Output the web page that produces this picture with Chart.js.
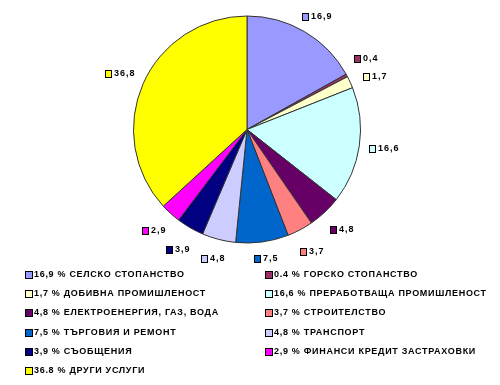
<!DOCTYPE html>
<html>
<head>
<meta charset="utf-8">
<script src="https://cdn.jsdelivr.net/npm/chart.js@4/dist/chart.umd.min.js"></script>
<style>
  body { margin: 0; background: #fff; }
  #wrap { position: relative; width: 500px; height: 385px; }
  #legend { position: absolute; left: 0; top: 0; width: 500px; height: 385px; pointer-events: none; }
  .item { position: absolute; height: 12px; line-height: 12px; font: bold 9px "Liberation Sans", Arial, sans-serif; letter-spacing: 0.7px; color: #000; white-space: nowrap; }
  .item span.box { position: absolute; left: 0; top: 2px; width: 6px; height: 6px; border: 1px solid #000; }
  .item span.txt { position: absolute; left: 9px; top: 0; }
</style>
</head>
<body>
<div id="wrap">
  <canvas id="chart-pie" width="500" height="385"></canvas>
  <div id="legend"></div>
</div>
<script>
// data
const sectors = [
  'СЕЛСКО СТОПАНСТВО',
  'ГОРСКО СТОПАНСТВО',
  'ДОБИВНА ПРОМИШЛЕНОСТ',
  'ПРЕРАБОТВАЩА ПРОМИШЛЕНОСТ',
  'ЕЛЕКТРОЕНЕРГИЯ, ГАЗ, ВОДА',
  'СТРОИТЕЛСТВО',
  'ТЪРГОВИЯ И РЕМОНТ',
  'ТРАНСПОРТ',
  'СЪОБЩЕНИЯ',
  'ФИНАНСИ КРЕДИТ ЗАСТРАХОВКИ',
  'ДРУГИ УСЛУГИ'
];
const shares = [16.9, 0.4, 1.7, 16.6, 4.8, 3.7, 7.5, 4.8, 3.9, 2.9, 36.8];
const sliceLabels = ['16,9', '0,4', '1,7', '16,6', '4,8', '3,7', '7,5', '4,8', '3,9', '2,9', '36,8'];
const legendNums = ['16,9', '0.4', '1,7', '16,6', '4,8', '3,7', '7,5', '4,8', '3,9', '2,9', '36.8'];
const colors = ['#9999FF', '#993366', '#FFFFCC', '#CCFFFF', '#660066', '#FF8080',
                '#0066CC', '#CCCCFF', '#000080', '#FF00FF', '#FFFF00'];

// legend, two columns, row by row
const legendEl = document.getElementById('legend');
sectors.forEach((name, i) => {
  const col = i % 2;
  const row = Math.floor(i / 2);
  const d = document.createElement('div');
  d.className = 'item';
  d.style.left = (col === 0 ? 25 : 265) + 'px';
  d.style.top = (269 + row * 19.2) + 'px';
  d.innerHTML = '<span class="box" style="background:' + colors[i] + '"></span>' +
                '<span class="txt">' + legendNums[i] + ' % ' + name + '</span>';
  legendEl.appendChild(d);
});

// labels with little colour boxes outside the slices
const outLabels = {
  id: 'outLabels',
  afterDraw(chart) {
    const ctx = chart.ctx;
    const meta = chart.getDatasetMeta(0);
    ctx.save();
    ctx.font = 'bold 9px "Liberation Sans", Arial, sans-serif';
    ctx.letterSpacing = '1px';
    ctx.textBaseline = 'middle';

    const arcs = meta.data;
    const ang = arcs.map(a => (a.startAngle + a.endAngle) / 2);
    const widths = sliceLabels.map(t => 8 + ctx.measureText(t).width);
    const pos = (i) => {
      const r = arcs[i].outerRadius + 25;
      return { x: arcs[i].x + Math.cos(ang[i]) * r, y: arcs[i].y + Math.sin(ang[i]) * r };
    };
    // push neighbouring labels apart when they collide
    for (let it = 0; it < 200; it++) {
      let moved = false;
      for (let i = 0; i < arcs.length - 1; i++) {
        const p = pos(i), q = pos(i + 1);
        if (Math.abs(p.x - q.x) < (widths[i] + widths[i + 1]) / 2 + 4 &&
            Math.abs(p.y - q.y) < 18) {
          ang[i] -= 0.005;
          ang[i + 1] += 0.005;
          moved = true;
        }
      }
      if (!moved) break;
    }

    arcs.forEach((arc, i) => {
      const p = pos(i);
      // keep labels inside the plot band
      p.y = Math.min(259, Math.max(17, p.y));
      const x0 = Math.round(p.x - widths[i] / 2);
      const y0 = Math.round(p.y);
      ctx.fillStyle = colors[i];
      ctx.fillRect(x0 + 0.5, y0 - 3.5, 6, 7);
      ctx.strokeStyle = '#000';
      ctx.lineWidth = 1;
      ctx.strokeRect(x0 + 0.5, y0 - 3.5, 6, 7);
      ctx.fillStyle = '#000';
      ctx.fillText(sliceLabels[i], x0 + 9, y0);
    });
    ctx.restore();
  }
};

new Chart(document.getElementById('chart-pie'), {
  type: 'pie',
  data: {
    labels: sectors,
    datasets: [{
      data: shares,
      backgroundColor: colors,
      borderColor: '#333',
      borderWidth: 1
    }]
  },
  options: {
    responsive: false,
    animation: false,
    layout: { padding: { left: 133, right: 139, top: 14, bottom: 140 } },
    plugins: {
      legend: { display: false },
      tooltip: { enabled: false }
    }
  },
  plugins: [outLabels]
});
</script>
</body>
</html>
